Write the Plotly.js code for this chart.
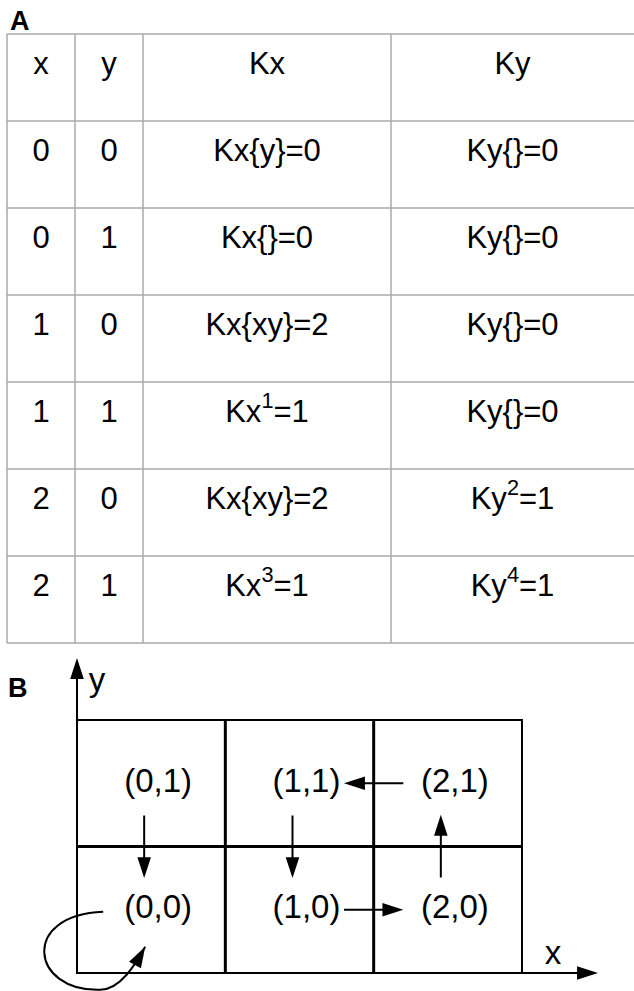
<!DOCTYPE html>
<html><head><meta charset="utf-8">
<script src="https://cdn.plot.ly/plotly-3.0.1.min.js"></script>
<style>html,body{margin:0;padding:0;overflow:hidden;background:#fff}</style>
</head><body><div id="chart" style="width:634px;height:991px"></div>
<script>
// ---------- data: panel A (table) ----------
const headers = ['x', 'y', 'Kx', 'Ky'];
const colX  = ['0', '0', '1', '1', '2', '2'];
const colY  = ['0', '1', '0', '1', '0', '1'];
const colKx = ['Kx{y}=0', 'Kx{}=0', 'Kx{xy}=2', 'Kx<sup>1</sup>=1', 'Kx{xy}=2', 'Kx<sup>3</sup>=1'];
const colKy = ['Ky{}=0', 'Ky{}=0', 'Ky{}=0', 'Ky{}=0', 'Ky<sup>2</sup>=1', 'Ky<sup>4</sup>=1'];
// ---------- data: panel B (state diagram) ----------
const stateX = [0, 0, 1, 1, 2, 2];
const stateY = [0, 1, 0, 1, 0, 1];
const transFrom = [[0, 1], [1, 1], [2, 1], [1, 0], [2, 0]];
const transTo   = [[0, 0], [1, 0], [1, 1], [2, 0], [2, 1]];
const selfLoops = [[0, 0]];
const axisNames = ['x', 'y'];
const panelLabels = ['A', 'B'];

// ---------- layout / style ----------
const W = 634, H = 991;
const FONT = 'Liberation Sans, Arial, Helvetica, sans-serif';
const colEdgesPx = [7, 75, 143, 391, 634];
const tableTopPx = 34, rowPx = 87, rowPad = 0.1;
const gridLeftPx = 77, gridRightPx = 522, gridTopPx = 720, gridBottomPx = 973, bTopPx = 646;
const tableLine = {color: '#aaaaaa', width: 1.5};
const HEAD = 22;

const cols = [colX, colY, colKx, colKy];
const nRows = colX.length + 1;
const nCols = Math.max(...stateX) + 1;
const nRowsB = Math.max(...stateY) + 1;
const ux = (gridRightPx - gridLeftPx) / nCols;
const uy = (gridBottomPx - gridTopPx) / nRowsB;

const traces = [];
const shapes = [];
const annotations = [];

// ---- Panel A: table text ----
const tx = [], ty = [], tt = [];
for (let r = 0; r < nRows; r++) {
  for (let c = 0; c < headers.length; c++) {
    tx.push((colEdgesPx[c] + colEdgesPx[c + 1]) / 2);
    ty.push(r + 0.365);
    tt.push(r === 0 ? headers[c] : cols[c][r - 1]);
  }
}
traces.push({type: 'scatter', mode: 'text', x: tx, y: ty, text: tt, xaxis: 'x', yaxis: 'y',
  textposition: 'middle center', textfont: {family: FONT, size: 31, color: '#000'},
  hoverinfo: 'skip', showlegend: false, cliponaxis: false});
for (let r = 0; r <= nRows; r++) {
  shapes.push({type: 'line', xref: 'x', yref: 'y', x0: colEdgesPx[0], x1: colEdgesPx[colEdgesPx.length - 1],
    y0: r, y1: r, line: tableLine});
}
for (let c = 0; c < colEdgesPx.length - 1; c++) {
  shapes.push({type: 'line', xref: 'x', yref: 'y', x0: colEdgesPx[c], x1: colEdgesPx[c],
    y0: 0, y1: nRows, line: tableLine});
}

// ---- Panel B: grid ----
shapes.push({type: 'rect', xref: 'x2', yref: 'y2', x0: 0, x1: nCols, y0: 0, y1: nRowsB,
  line: {color: '#000', width: 2}});
for (let i = 1; i < nCols; i++) {
  shapes.push({type: 'line', xref: 'x2', yref: 'y2', x0: i, x1: i, y0: 0, y1: nRowsB, line: {color: '#000', width: 3}});
}
for (let j = 1; j < nRowsB; j++) {
  shapes.push({type: 'line', xref: 'x2', yref: 'y2', x0: 0, x1: nCols, y0: j, y1: j, line: {color: '#000', width: 3}});
}

// state labels
traces.push({type: 'scatter', mode: 'text', xaxis: 'x2', yaxis: 'y2',
  x: stateX.map(v => v + 0.5 + 7 / ux), y: stateY.map(v => v + 0.5),
  text: stateX.map((v, i) => '(' + v + ',' + stateY[i] + ')'),
  textposition: 'middle center', textfont: {family: FONT, size: 33, color: '#000'},
  hoverinfo: 'skip', showlegend: false, cliponaxis: false});

// axis arrows + transitions
function arrowTrace(xs, ys, width) {
  const sizes = xs.map((v, i) => (v !== null && (i === xs.length - 1 || xs[i + 1] === null) && i > 0 && xs[i - 1] !== null) ? HEAD : 0);
  return {type: 'scatter', mode: 'lines+markers', xaxis: 'x2', yaxis: 'y2', x: xs, y: ys,
    line: {color: '#000', width: width}, connectgaps: false,
    marker: {symbol: 'arrow', size: sizes, color: '#000', opacity: 1, angleref: 'previous', line: {width: 0}},
    hoverinfo: 'skip', showlegend: false, cliponaxis: false};
}
const xTip = nCols + 76 / ux, yTip = nRowsB + 62 / uy;
traces.push(arrowTrace([0, xTip, null, 0, 0], [0, 0, null, 0, yTip], 2));

const ax = [], ay = [];
for (let k = 0; k < transFrom.length; k++) {
  const f = transFrom[k], t = transTo[k];
  const dx = t[0] - f[0], dy = t[1] - f[1];
  if (dy === 0) {
    ax.push(f[0] + 0.5 + dx * 0.3, t[0] + 0.5 - dx * 0.3, null);
    ay.push(f[1] + 0.5, t[1] + 0.5, null);
  } else {
    ax.push(f[0] + 0.5 - 7 / ux, t[0] + 0.5 - 7 / ux, null);
    ay.push(f[1] + 0.5 + dy * 0.255, t[1] + 0.5 - dy * 0.25, null);
  }
}
traces.push(arrowTrace(ax, ay, 2));

// self loops (curved arrow), geometry in px offsets from state centre
const loopPx = [[-48, 2], [-131, 5], [-121, 82], [-51, 80], [-31, 80], [-16, 55], [-6, 37]];
const loopX = [], loopY = [], loopAng = [];
selfLoops.forEach(s => {
  const cx = s[0] + 0.5, cy = s[1] + 0.5;
  const P = loopPx.map(p => [cx + p[0] / ux, cy - p[1] / uy]);
  const f = p => p[0] + ',' + p[1];
  shapes.push({type: 'path', xref: 'x2', yref: 'y2',
    path: 'M' + f(P[0]) + ' C' + f(P[1]) + ' ' + f(P[2]) + ' ' + f(P[3]) + ' C' + f(P[4]) + ' ' + f(P[5]) + ' ' + f(P[6]),
    line: {color: '#000', width: 2}});
  const a = loopPx[5], b = loopPx[6];
  loopX.push(P[6][0]); loopY.push(P[6][1]);
  loopAng.push(Math.atan2(b[0] - a[0], -(b[1] - a[1])) * 180 / Math.PI);
});
traces.push({type: 'scatter', mode: 'markers', xaxis: 'x2', yaxis: 'y2', x: loopX, y: loopY,
  marker: {symbol: 'arrow', size: HEAD, color: '#000', angle: loopAng, line: {width: 0}},
  hoverinfo: 'skip', showlegend: false, cliponaxis: false});

// axis names
traces.push({type: 'scatter', mode: 'text', xaxis: 'x2', yaxis: 'y2',
  x: [(553 - gridLeftPx) / ux, (97 - gridLeftPx) / ux],
  y: [(gridBottomPx - 956) / uy, (gridBottomPx - 683) / uy],
  text: axisNames, textposition: 'middle center', textfont: {family: FONT, size: 33, color: '#000'},
  hoverinfo: 'skip', showlegend: false, cliponaxis: false});

// panel labels
const panelPos = [[20, 21], [18, 688]];
panelLabels.forEach((t, i) => annotations.push({xref: 'paper', yref: 'paper',
  x: panelPos[i][0] / W, y: 1 - panelPos[i][1] / H, xanchor: 'center', yanchor: 'middle',
  text: t, showarrow: false, font: {family: FONT, size: 27, color: '#000', weight: 'bold'}}));

const hidden = {visible: false, fixedrange: true};
const layout = {
  width: W, height: H, margin: {l: 0, r: 0, t: 0, b: 0},
  paper_bgcolor: '#fff', plot_bgcolor: 'rgba(0,0,0,0)', showlegend: false,
  xaxis: Object.assign({range: [0, W], domain: [0, 1]}, hidden),
  yaxis: Object.assign({range: [nRows + rowPad, -rowPad],
    domain: [1 - (tableTopPx + (nRows + rowPad) * rowPx) / H, 1 - (tableTopPx - rowPad * rowPx) / H]}, hidden),
  xaxis2: Object.assign({range: [-gridLeftPx / ux, (W - gridLeftPx) / ux], domain: [0, 1], anchor: 'y2'}, hidden),
  yaxis2: Object.assign({range: [-(H - gridBottomPx) / uy, (gridBottomPx - bTopPx) / uy],
    domain: [0, 1 - bTopPx / H], anchor: 'x2'}, hidden),
  shapes: shapes, annotations: annotations
};
Plotly.newPlot('chart', traces, layout, {staticPlot: true, displayModeBar: false});
</script>
</body></html>
